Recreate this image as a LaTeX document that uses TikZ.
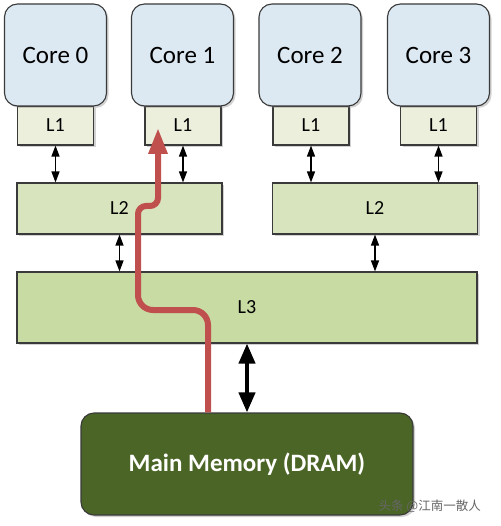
\documentclass[tikz,border=0pt]{standalone}
\usepackage{fontspec}
\setmainfont{Carlito}
\newfontfamily\cjk{Noto Sans CJK SC}
\usetikzlibrary{arrows.meta,shadows}
\definecolor{corefill}{HTML}{DCE9F3}
\definecolor{lonefill}{HTML}{EBEFDC}
\definecolor{ltwofill}{HTML}{D8E4BE}
\definecolor{lthreefill}{HTML}{C8DBA2}
\definecolor{memfill}{HTML}{4B6526}
\definecolor{edgegray}{HTML}{3A3A3A}
\definecolor{pathred}{HTML}{C0504D}
\tikzset{
  x=1pt, y=-1pt,
  boxbase/.style={draw=edgegray, line width=1.1pt, inner sep=0pt,
    drop shadow={opacity=0.35, shadow xshift=2pt, shadow yshift=-2pt}},
  corebox/.style={boxbase, fill=corefill, rounded corners=13pt,
    minimum width=102pt, minimum height=102pt, font=\fontsize{25}{30}\selectfont},
  lonebox/.style={boxbase, fill=lonefill, minimum width=76pt, minimum height=39pt,
    font=\fontsize{20}{24}\selectfont},
  ltwobox/.style={boxbase, fill=ltwofill, minimum width=205pt, minimum height=51pt,
    font=\fontsize{20}{24}\selectfont},
  lthreebox/.style={boxbase, fill=lthreefill, minimum width=460pt, minimum height=71pt,
    font=\fontsize{20}{24}\selectfont},
  membox/.style={boxbase, fill=memfill, rounded corners=13pt, minimum width=332pt,
    minimum height=102pt, text=white, font=\fontsize{25}{30}\selectfont\bfseries},
  smallarrow/.style={line width=1.3pt, {Triangle[width=8pt,length=11pt]}-{Triangle[width=8pt,length=11pt]}},
  bigarrow/.style={line width=4pt, {Triangle[width=16pt,length=20pt]}-{Triangle[width=16pt,length=20pt]}},
  redpath/.style={draw=pathred, line width=6pt, -{Triangle[width=18pt,length=26pt]}}
}
\begin{document}
\begin{tikzpicture}
\useasboundingbox[fill=white] (0,0) rectangle (500,526);
% L1 caches (behind cores)
\node[lonebox] (lone0) at (55.5,125.5) {L1};
\node[lonebox] (lone1) at (183,125.5) {L1};
\node[lonebox] (lone2) at (311,125.5) {L1};
\node[lonebox] (lone3) at (438.5,125.5) {L1};
% cores
\node[corebox] (core0) at (55.5,55) {Core 0};
\node[corebox] (core1) at (182.5,55) {Core 1};
\node[corebox] (core2) at (310,55) {Core 2};
\node[corebox] (core3) at (438.5,55) {Core 3};
% L2
\node[ltwobox] (ltwoa) at (119.5,208.5) {L2};
\node[ltwobox] (ltwob) at (375,208.5) {L2};
% L3
\node[lthreebox] (lthree) at (247,307.5) {L3};
% Memory
\node[membox] (mem) at (247,464) {Main Memory (DRAM)};
% arrows
\draw[smallarrow] (lone0.south) -- (lone0.south |- ltwoa.north);
\draw[smallarrow] (lone1.south) -- (lone1.south |- ltwoa.north);
\draw[smallarrow] (lone2.south) -- (lone2.south |- ltwob.north);
\draw[smallarrow] (lone3.south) -- (lone3.south |- ltwob.north);
\draw[smallarrow] (ltwoa.south) -- (ltwoa.south |- lthree.north);
\draw[smallarrow] (ltwob.south) -- (ltwob.south |- lthree.north);
\draw[bigarrow] (lthree.south) -- (mem.north);
% red path
\coordinate (redstart) at ([xshift=-39pt]mem.north);
\coordinate (redend) at (158,128);
\draw[redpath] (redstart) [rounded corners=15pt] -- (208,310) -- (138,310) [rounded corners=8pt] -- (138,206) -- (158,206) [sharp corners] -- (redend);
% watermark
\node[font=\cjk\fontsize{12.5}{15}\selectfont, text=gray!80!black, anchor=east, inner sep=0pt] (wm) at (481,506) {头条 @江南一散人};
\end{tikzpicture}
\end{document}
